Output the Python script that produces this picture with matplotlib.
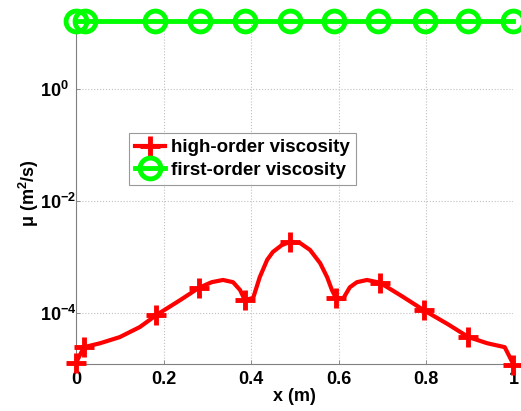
import matplotlib
matplotlib.use("Agg")
import matplotlib.pyplot as plt
import numpy as np

plt.rcParams['font.family'] = ['Liberation Sans', 'DejaVu Sans']
plt.rcParams['font.weight'] = 'bold'
plt.rcParams['mathtext.fontset'] = 'custom'
plt.rcParams['mathtext.rm'] = 'Liberation Sans:bold'
plt.rcParams['mathtext.it'] = 'Liberation Sans:bold'
plt.rcParams['mathtext.bf'] = 'Liberation Sans:bold'

# high-order viscosity profile, log10(mu) along x
x_high = [0.0, 0.018, 0.055, 0.10, 0.146, 0.183, 0.238, 0.281, 0.31, 0.336,
          0.359, 0.375, 0.386, 0.405, 0.42, 0.437, 0.45, 0.47, 0.489, 0.512,
          0.535, 0.558, 0.574, 0.585, 0.594, 0.61, 0.626, 0.642, 0.665, 0.695,
          0.745, 0.795, 0.85, 0.897, 0.94, 0.98, 1.0]
log_mu_high = [-4.89, -4.61, -4.54, -4.43, -4.25, -4.04, -3.77, -3.55, -3.45, -3.41,
               -3.45, -3.59, -3.77, -3.73, -3.36, -3.05, -2.91, -2.79, -2.73, -2.75,
               -2.875, -3.11, -3.36, -3.59, -3.73, -3.75, -3.54, -3.45, -3.41, -3.46,
               -3.70, -3.95, -4.20, -4.43, -4.54, -4.61, -4.92]
marker_idx_high = [0, 1, 5, 7, 12, 18, 24, 29, 31, 33, 36]

# first-order viscosity (constant)
x_first = [0.0, 0.02, 0.18, 0.283, 0.386, 0.49, 0.59, 0.69, 0.797, 0.897, 1.0]
mu_first = [16.0] * len(x_first)

labels = ['high-order viscosity', 'first-order viscosity']

mu_high = 10.0 ** np.array(log_mu_high)

FS = 13

fig = plt.figure(figsize=(5.21, 4.11), dpi=100)
ax = fig.add_axes([0.1459, 0.1144, 0.8397, 0.8333])

ax.plot(x_high, mu_high, color='#ff0000', lw=3, marker='+', ms=14, mew=3.5,
        markevery=marker_idx_high, label=labels[0], clip_on=False, zorder=3)
ax.plot(x_first, mu_first, color='#00ff00', lw=3.5, marker='o', ms=15, mew=3.5,
        mfc='none', label=labels[1], clip_on=False, zorder=3)

ax.set_yscale('log')
ax.set_xlim(0, 1)
ax.set_ylim(10 ** -4.91, 16.0)
ax.set_xticks([0, 0.2, 0.4, 0.6, 0.8, 1.0])
ax.set_xticklabels(['0', '0.2', '0.4', '0.6', '0.8', '1'])
ax.set_yticks([1e-4, 1e-2, 1e0])
ax.set_yticklabels([r'$10^{-4}$', r'$10^{-2}$', r'$10^{0}$'])
ax.minorticks_off()
ax.tick_params(direction='in', length=3, width=0.6, colors='#808080',
               labelcolor='black', labelsize=FS)
ax.tick_params(axis='x', pad=5)
# exponent labels share a common left edge for the "10" base
ax.tick_params(axis='y', pad=26)
for t in ax.get_yticklabels():
    t.set_horizontalalignment('left')
for s in ['top', 'right']:
    ax.spines[s].set_visible(False)
for s in ['left', 'bottom']:
    ax.spines[s].set_color('#808080')
    ax.spines[s].set_linewidth(0.8)

ax.grid(True, which='major', color='#c0c0c0', linestyle=':', linewidth=0.8)
ax.set_axisbelow(True)

ax.set_xlabel('x (m)', fontsize=FS, fontweight='bold')
ax.xaxis.set_label_coords(0.5, -0.071)
ax.set_ylabel('μ (m$^{2}$/s)', fontsize=FS, fontweight='bold')
ax.yaxis.set_label_coords(-0.08, 0.5)

leg = ax.legend(loc='upper left', bbox_to_anchor=(0.121, 0.673), fontsize=13.5,
                frameon=True, fancybox=False, edgecolor='#808080',
                handlelength=1.6, handletextpad=0.35, borderpad=0.3,
                labelspacing=0.3, borderaxespad=0)
leg.get_frame().set_linewidth(0.8)
for t in leg.get_texts():
    t.set_fontweight('bold')

fig.savefig('out.png', dpi=100)
